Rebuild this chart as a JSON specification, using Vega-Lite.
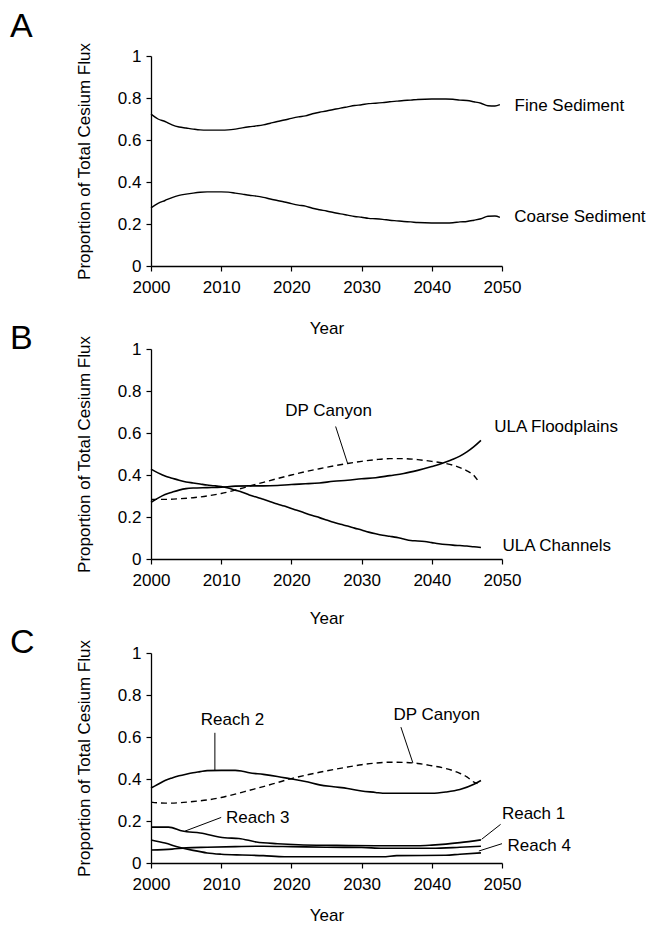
{
  "$schema": "https://vega.github.io/schema/vega-lite/v6.json",
  "padding": {"left": 10, "top": 9, "right": 0, "bottom": 0},
  "background": "white",
  "datasets": {
    "a": [
      {"series":"Fine Sediment","year":2000,"value":0.723},{"series":"Fine Sediment","year":2001,"value":0.700},{"series":"Fine Sediment","year":2002,"value":0.688},{"series":"Fine Sediment","year":2003,"value":0.672},{"series":"Fine Sediment","year":2004,"value":0.662},{"series":"Fine Sediment","year":2005,"value":0.657},{"series":"Fine Sediment","year":2006,"value":0.652},{"series":"Fine Sediment","year":2007,"value":0.648},{"series":"Fine Sediment","year":2008,"value":0.647},{"series":"Fine Sediment","year":2010,"value":0.647},{"series":"Fine Sediment","year":2011,"value":0.648},{"series":"Fine Sediment","year":2012,"value":0.652},{"series":"Fine Sediment","year":2013,"value":0.658},{"series":"Fine Sediment","year":2014,"value":0.663},{"series":"Fine Sediment","year":2015,"value":0.667},{"series":"Fine Sediment","year":2016,"value":0.672},{"series":"Fine Sediment","year":2017,"value":0.680},{"series":"Fine Sediment","year":2018,"value":0.688},{"series":"Fine Sediment","year":2019,"value":0.695},{"series":"Fine Sediment","year":2020,"value":0.703},{"series":"Fine Sediment","year":2021,"value":0.710},{"series":"Fine Sediment","year":2022,"value":0.715},{"series":"Fine Sediment","year":2023,"value":0.725},{"series":"Fine Sediment","year":2024,"value":0.732},{"series":"Fine Sediment","year":2025,"value":0.738},{"series":"Fine Sediment","year":2026,"value":0.745},{"series":"Fine Sediment","year":2027,"value":0.752},{"series":"Fine Sediment","year":2028,"value":0.758},{"series":"Fine Sediment","year":2029,"value":0.764},{"series":"Fine Sediment","year":2030,"value":0.768},{"series":"Fine Sediment","year":2031,"value":0.773},{"series":"Fine Sediment","year":2032,"value":0.775},{"series":"Fine Sediment","year":2033,"value":0.778},{"series":"Fine Sediment","year":2034,"value":0.782},{"series":"Fine Sediment","year":2035,"value":0.785},{"series":"Fine Sediment","year":2036,"value":0.788},{"series":"Fine Sediment","year":2037,"value":0.790},{"series":"Fine Sediment","year":2038,"value":0.793},{"series":"Fine Sediment","year":2040,"value":0.795},{"series":"Fine Sediment","year":2042,"value":0.795},{"series":"Fine Sediment","year":2043,"value":0.794},{"series":"Fine Sediment","year":2044,"value":0.790},{"series":"Fine Sediment","year":2045,"value":0.788},{"series":"Fine Sediment","year":2046,"value":0.782},{"series":"Fine Sediment","year":2047,"value":0.775},{"series":"Fine Sediment","year":2048,"value":0.763},{"series":"Fine Sediment","year":2049,"value":0.762},{"series":"Fine Sediment","year":2049.7,"value":0.768},
      {"series":"Coarse Sediment","year":2000,"value":0.277},{"series":"Coarse Sediment","year":2001,"value":0.298},{"series":"Coarse Sediment","year":2002,"value":0.312},{"series":"Coarse Sediment","year":2003,"value":0.326},{"series":"Coarse Sediment","year":2004,"value":0.336},{"series":"Coarse Sediment","year":2005,"value":0.342},{"series":"Coarse Sediment","year":2006,"value":0.347},{"series":"Coarse Sediment","year":2007,"value":0.351},{"series":"Coarse Sediment","year":2008,"value":0.353},{"series":"Coarse Sediment","year":2010,"value":0.353},{"series":"Coarse Sediment","year":2011,"value":0.352},{"series":"Coarse Sediment","year":2012,"value":0.347},{"series":"Coarse Sediment","year":2013,"value":0.342},{"series":"Coarse Sediment","year":2014,"value":0.337},{"series":"Coarse Sediment","year":2015,"value":0.333},{"series":"Coarse Sediment","year":2016,"value":0.327},{"series":"Coarse Sediment","year":2017,"value":0.319},{"series":"Coarse Sediment","year":2018,"value":0.312},{"series":"Coarse Sediment","year":2019,"value":0.305},{"series":"Coarse Sediment","year":2020,"value":0.297},{"series":"Coarse Sediment","year":2021,"value":0.290},{"series":"Coarse Sediment","year":2022,"value":0.285},{"series":"Coarse Sediment","year":2023,"value":0.275},{"series":"Coarse Sediment","year":2024,"value":0.268},{"series":"Coarse Sediment","year":2025,"value":0.262},{"series":"Coarse Sediment","year":2026,"value":0.255},{"series":"Coarse Sediment","year":2027,"value":0.248},{"series":"Coarse Sediment","year":2028,"value":0.242},{"series":"Coarse Sediment","year":2029,"value":0.236},{"series":"Coarse Sediment","year":2030,"value":0.232},{"series":"Coarse Sediment","year":2031,"value":0.227},{"series":"Coarse Sediment","year":2032,"value":0.225},{"series":"Coarse Sediment","year":2033,"value":0.222},{"series":"Coarse Sediment","year":2034,"value":0.218},{"series":"Coarse Sediment","year":2035,"value":0.215},{"series":"Coarse Sediment","year":2036,"value":0.212},{"series":"Coarse Sediment","year":2037,"value":0.210},{"series":"Coarse Sediment","year":2038,"value":0.207},{"series":"Coarse Sediment","year":2040,"value":0.205},{"series":"Coarse Sediment","year":2042,"value":0.205},{"series":"Coarse Sediment","year":2043,"value":0.206},{"series":"Coarse Sediment","year":2044,"value":0.210},{"series":"Coarse Sediment","year":2045,"value":0.212},{"series":"Coarse Sediment","year":2046,"value":0.218},{"series":"Coarse Sediment","year":2047,"value":0.225},{"series":"Coarse Sediment","year":2048,"value":0.237},{"series":"Coarse Sediment","year":2049,"value":0.238},{"series":"Coarse Sediment","year":2049.7,"value":0.232}
    ],
    "b": [
      {"series":"ULA Channels","year":2000,"value":0.428},{"series":"ULA Channels","year":2001,"value":0.410},{"series":"ULA Channels","year":2002,"value":0.395},{"series":"ULA Channels","year":2003,"value":0.385},{"series":"ULA Channels","year":2004,"value":0.375},{"series":"ULA Channels","year":2005,"value":0.367},{"series":"ULA Channels","year":2006,"value":0.362},{"series":"ULA Channels","year":2007,"value":0.357},{"series":"ULA Channels","year":2008,"value":0.352},{"series":"ULA Channels","year":2009,"value":0.349},{"series":"ULA Channels","year":2010,"value":0.345},{"series":"ULA Channels","year":2011,"value":0.338},{"series":"ULA Channels","year":2012,"value":0.328},{"series":"ULA Channels","year":2013,"value":0.318},{"series":"ULA Channels","year":2014,"value":0.305},{"series":"ULA Channels","year":2015,"value":0.295},{"series":"ULA Channels","year":2016,"value":0.284},{"series":"ULA Channels","year":2017,"value":0.273},{"series":"ULA Channels","year":2018,"value":0.262},{"series":"ULA Channels","year":2019,"value":0.252},{"series":"ULA Channels","year":2020,"value":0.240},{"series":"ULA Channels","year":2021,"value":0.230},{"series":"ULA Channels","year":2022,"value":0.218},{"series":"ULA Channels","year":2023,"value":0.207},{"series":"ULA Channels","year":2024,"value":0.197},{"series":"ULA Channels","year":2025,"value":0.186},{"series":"ULA Channels","year":2026,"value":0.175},{"series":"ULA Channels","year":2027,"value":0.165},{"series":"ULA Channels","year":2028,"value":0.157},{"series":"ULA Channels","year":2029,"value":0.147},{"series":"ULA Channels","year":2030,"value":0.138},{"series":"ULA Channels","year":2031,"value":0.128},{"series":"ULA Channels","year":2032,"value":0.120},{"series":"ULA Channels","year":2033,"value":0.113},{"series":"ULA Channels","year":2034,"value":0.108},{"series":"ULA Channels","year":2035,"value":0.103},{"series":"ULA Channels","year":2036,"value":0.095},{"series":"ULA Channels","year":2037,"value":0.088},{"series":"ULA Channels","year":2038,"value":0.086},{"series":"ULA Channels","year":2039,"value":0.083},{"series":"ULA Channels","year":2040,"value":0.078},{"series":"ULA Channels","year":2041,"value":0.073},{"series":"ULA Channels","year":2042,"value":0.069},{"series":"ULA Channels","year":2043,"value":0.066},{"series":"ULA Channels","year":2044,"value":0.064},{"series":"ULA Channels","year":2045,"value":0.062},{"series":"ULA Channels","year":2046,"value":0.058},{"series":"ULA Channels","year":2047,"value":0.055},
      {"series":"ULA Floodplains","year":2000,"value":0.270},{"series":"ULA Floodplains","year":2001,"value":0.290},{"series":"ULA Floodplains","year":2002,"value":0.307},{"series":"ULA Floodplains","year":2003,"value":0.318},{"series":"ULA Floodplains","year":2004,"value":0.328},{"series":"ULA Floodplains","year":2005,"value":0.335},{"series":"ULA Floodplains","year":2006,"value":0.338},{"series":"ULA Floodplains","year":2008,"value":0.340},{"series":"ULA Floodplains","year":2010,"value":0.342},{"series":"ULA Floodplains","year":2012,"value":0.347},{"series":"ULA Floodplains","year":2014,"value":0.348},{"series":"ULA Floodplains","year":2016,"value":0.348},{"series":"ULA Floodplains","year":2018,"value":0.350},{"series":"ULA Floodplains","year":2020,"value":0.355},{"series":"ULA Floodplains","year":2022,"value":0.358},{"series":"ULA Floodplains","year":2024,"value":0.362},{"series":"ULA Floodplains","year":2026,"value":0.370},{"series":"ULA Floodplains","year":2028,"value":0.375},{"series":"ULA Floodplains","year":2030,"value":0.382},{"series":"ULA Floodplains","year":2032,"value":0.387},{"series":"ULA Floodplains","year":2034,"value":0.397},{"series":"ULA Floodplains","year":2036,"value":0.407},{"series":"ULA Floodplains","year":2038,"value":0.422},{"series":"ULA Floodplains","year":2040,"value":0.440},{"series":"ULA Floodplains","year":2041,"value":0.450},{"series":"ULA Floodplains","year":2042,"value":0.462},{"series":"ULA Floodplains","year":2043,"value":0.475},{"series":"ULA Floodplains","year":2044,"value":0.490},{"series":"ULA Floodplains","year":2045,"value":0.510},{"series":"ULA Floodplains","year":2046,"value":0.535},{"series":"ULA Floodplains","year":2047,"value":0.565},
      {"series":"DP Canyon","year":2000,"value":0.284},{"series":"DP Canyon","year":2002,"value":0.284},{"series":"DP Canyon","year":2004,"value":0.287},{"series":"DP Canyon","year":2006,"value":0.292},{"series":"DP Canyon","year":2008,"value":0.300},{"series":"DP Canyon","year":2010,"value":0.312},{"series":"DP Canyon","year":2012,"value":0.328},{"series":"DP Canyon","year":2014,"value":0.347},{"series":"DP Canyon","year":2016,"value":0.365},{"series":"DP Canyon","year":2018,"value":0.383},{"series":"DP Canyon","year":2020,"value":0.400},{"series":"DP Canyon","year":2022,"value":0.416},{"series":"DP Canyon","year":2024,"value":0.430},{"series":"DP Canyon","year":2026,"value":0.443},{"series":"DP Canyon","year":2028,"value":0.455},{"series":"DP Canyon","year":2030,"value":0.465},{"series":"DP Canyon","year":2032,"value":0.473},{"series":"DP Canyon","year":2034,"value":0.478},{"series":"DP Canyon","year":2036,"value":0.478},{"series":"DP Canyon","year":2038,"value":0.473},{"series":"DP Canyon","year":2040,"value":0.465},{"series":"DP Canyon","year":2042,"value":0.455},{"series":"DP Canyon","year":2043,"value":0.447},{"series":"DP Canyon","year":2044,"value":0.435},{"series":"DP Canyon","year":2045,"value":0.420},{"series":"DP Canyon","year":2046,"value":0.398},{"series":"DP Canyon","year":2046.5,"value":0.377}
    ],
    "c": [
      {"series":"Reach 2","year":2000,"value":0.357},{"series":"Reach 2","year":2001,"value":0.375},{"series":"Reach 2","year":2002,"value":0.393},{"series":"Reach 2","year":2003,"value":0.405},{"series":"Reach 2","year":2004,"value":0.415},{"series":"Reach 2","year":2005,"value":0.423},{"series":"Reach 2","year":2006,"value":0.430},{"series":"Reach 2","year":2007,"value":0.435},{"series":"Reach 2","year":2008,"value":0.440},{"series":"Reach 2","year":2010,"value":0.441},{"series":"Reach 2","year":2012,"value":0.441},{"series":"Reach 2","year":2013,"value":0.437},{"series":"Reach 2","year":2014,"value":0.430},{"series":"Reach 2","year":2016,"value":0.422},{"series":"Reach 2","year":2018,"value":0.412},{"series":"Reach 2","year":2020,"value":0.400},{"series":"Reach 2","year":2022,"value":0.388},{"series":"Reach 2","year":2024,"value":0.372},{"series":"Reach 2","year":2026,"value":0.363},{"series":"Reach 2","year":2028,"value":0.355},{"series":"Reach 2","year":2030,"value":0.343},{"series":"Reach 2","year":2032,"value":0.336},{"series":"Reach 2","year":2033,"value":0.332},{"series":"Reach 2","year":2036,"value":0.332},{"series":"Reach 2","year":2040,"value":0.332},{"series":"Reach 2","year":2042,"value":0.338},{"series":"Reach 2","year":2044,"value":0.350},{"series":"Reach 2","year":2046,"value":0.375},{"series":"Reach 2","year":2047,"value":0.393},
      {"series":"DP Canyon","year":2000,"value":0.290},{"series":"DP Canyon","year":2002,"value":0.285},{"series":"DP Canyon","year":2004,"value":0.287},{"series":"DP Canyon","year":2006,"value":0.293},{"series":"DP Canyon","year":2008,"value":0.300},{"series":"DP Canyon","year":2010,"value":0.312},{"series":"DP Canyon","year":2012,"value":0.328},{"series":"DP Canyon","year":2014,"value":0.346},{"series":"DP Canyon","year":2016,"value":0.364},{"series":"DP Canyon","year":2018,"value":0.383},{"series":"DP Canyon","year":2020,"value":0.402},{"series":"DP Canyon","year":2022,"value":0.418},{"series":"DP Canyon","year":2024,"value":0.432},{"series":"DP Canyon","year":2026,"value":0.445},{"series":"DP Canyon","year":2028,"value":0.457},{"series":"DP Canyon","year":2030,"value":0.468},{"series":"DP Canyon","year":2032,"value":0.476},{"series":"DP Canyon","year":2034,"value":0.480},{"series":"DP Canyon","year":2036,"value":0.479},{"series":"DP Canyon","year":2038,"value":0.474},{"series":"DP Canyon","year":2040,"value":0.463},{"series":"DP Canyon","year":2042,"value":0.450},{"series":"DP Canyon","year":2044,"value":0.427},{"series":"DP Canyon","year":2045,"value":0.410},{"series":"DP Canyon","year":2046,"value":0.385},{"series":"DP Canyon","year":2046.5,"value":0.378},
      {"series":"Reach 3","year":2000,"value":0.171},{"series":"Reach 3","year":2002.5,"value":0.171},{"series":"Reach 3","year":2004.5,"value":0.152},{"series":"Reach 3","year":2007,"value":0.143},{"series":"Reach 3","year":2010.5,"value":0.120},{"series":"Reach 3","year":2012.5,"value":0.117},{"series":"Reach 3","year":2015,"value":0.100},{"series":"Reach 3","year":2018,"value":0.092},{"series":"Reach 3","year":2021,"value":0.087},{"series":"Reach 3","year":2026,"value":0.084},{"series":"Reach 3","year":2032,"value":0.082},{"series":"Reach 3","year":2038,"value":0.082},{"series":"Reach 3","year":2040,"value":0.085},{"series":"Reach 3","year":2042,"value":0.090},{"series":"Reach 3","year":2044,"value":0.097},{"series":"Reach 3","year":2047,"value":0.110},
      {"series":"Reach 1","year":2000,"value":0.062},{"series":"Reach 1","year":2003,"value":0.066},{"series":"Reach 1","year":2005,"value":0.072},{"series":"Reach 1","year":2008,"value":0.075},{"series":"Reach 1","year":2012,"value":0.078},{"series":"Reach 1","year":2016,"value":0.080},{"series":"Reach 1","year":2020,"value":0.078},{"series":"Reach 1","year":2025,"value":0.075},{"series":"Reach 1","year":2030,"value":0.074},{"series":"Reach 1","year":2033,"value":0.070},{"series":"Reach 1","year":2040,"value":0.070},{"series":"Reach 1","year":2044,"value":0.075},{"series":"Reach 1","year":2047,"value":0.080},
      {"series":"Reach 4","year":2000,"value":0.110},{"series":"Reach 4","year":2002,"value":0.095},{"series":"Reach 4","year":2004,"value":0.075},{"series":"Reach 4","year":2006,"value":0.060},{"series":"Reach 4","year":2008,"value":0.048},{"series":"Reach 4","year":2010,"value":0.042},{"series":"Reach 4","year":2013,"value":0.038},{"series":"Reach 4","year":2016,"value":0.035},{"series":"Reach 4","year":2019,"value":0.030},{"series":"Reach 4","year":2033,"value":0.030},{"series":"Reach 4","year":2035,"value":0.035},{"series":"Reach 4","year":2042,"value":0.037},{"series":"Reach 4","year":2044,"value":0.042},{"series":"Reach 4","year":2047,"value":0.048}
    ],
    "labels": [
      {"panel":"A","text":"Fine Sediment","x":2059.6,"y":0.76},
      {"panel":"A","text":"Coarse Sediment","x":2061.1,"y":0.232},
      {"panel":"B","text":"DP Canyon","x":2025.3,"y":0.706},
      {"panel":"B","text":"ULA Floodplains","x":2057.7,"y":0.63},
      {"panel":"B","text":"ULA Channels","x":2057.8,"y":0.063},
      {"panel":"C","text":"Reach 2","x":2011.6,"y":0.682},
      {"panel":"C","text":"DP Canyon","x":2040.7,"y":0.706},
      {"panel":"C","text":"Reach 3","x":2015.2,"y":0.216},
      {"panel":"C","text":"Reach 1","x":2054.5,"y":0.235},
      {"panel":"C","text":"Reach 4","x":2055.3,"y":0.082}
    ],
    "leaders": [
      {"panel":"B","x":2026.3,"y":0.631,"x2":2028.0,"y2":0.456},
      {"panel":"C","x":2009.1,"y":0.62,"x2":2009.1,"y2":0.44},
      {"panel":"C","x":2035.6,"y":0.647,"x2":2037.3,"y2":0.477},
      {"panel":"C","x":2010.0,"y":0.217,"x2":2004.85,"y2":0.152},
      {"panel":"C","x":2049.8,"y":0.184,"x2":2047.1,"y2":0.113},
      {"panel":"C","x":2050.0,"y":0.092,"x2":2046.7,"y2":0.057}
    ]
  },
  "vconcat": [
    {
      "vconcat": [
        {
          "width": 351, "height": 210,
          "title": {"text": "A", "anchor": "start", "frame": "group", "dx": -141, "offset": -1.5},
          "layer": [
            {"data": {"name": "a"}, "mark": {"type": "line", "color": "black", "strokeWidth": 1.4, "interpolate": "monotone"},
             "encoding": {
               "x": {"field": "year", "type": "quantitative", "scale": {"domain": [2000, 2050], "nice": false}, "axis": {"values": [2000, 2010, 2020, 2030, 2040, 2050], "format": "d", "title": "Year", "titlePadding": 25}},
               "y": {"field": "value", "type": "quantitative", "scale": {"domain": [0, 1], "nice": false}, "axis": {"values": [0, 0.2, 0.4, 0.6, 0.8, 1], "format": "~g", "title": "Proportion of Total Cesium Flux"}},
               "detail": {"field": "series"}}},
            {"data": {"name": "labels"}, "transform": [{"filter": "datum.panel == 'A'"}],
             "mark": {"type": "text", "fontSize": 17, "align": "center", "baseline": "middle", "color": "black"},
             "encoding": {"x": {"field": "x", "type": "quantitative"}, "y": {"field": "y", "type": "quantitative"}, "text": {"field": "text"}}}
          ]
        },
        {
          "width": 351, "height": 210,
          "title": {"text": "B", "anchor": "start", "frame": "group", "dx": -141, "offset": -20.5},
          "layer": [
            {"data": {"name": "b"}, "transform": [{"filter": "datum.series != 'DP Canyon'"}],
             "mark": {"type": "line", "color": "black", "strokeWidth": 1.6, "interpolate": "monotone"},
             "encoding": {
               "x": {"field": "year", "type": "quantitative", "scale": {"domain": [2000, 2050], "nice": false}, "axis": {"values": [2000, 2010, 2020, 2030, 2040, 2050], "format": "d", "title": "Year", "titlePadding": 22}},
               "y": {"field": "value", "type": "quantitative", "scale": {"domain": [0, 1], "nice": false}, "axis": {"values": [0, 0.2, 0.4, 0.6, 0.8, 1], "format": "~g", "title": "Proportion of Total Cesium Flux"}},
               "detail": {"field": "series"}}},
            {"data": {"name": "b"}, "transform": [{"filter": "datum.series == 'DP Canyon'"}],
             "mark": {"type": "line", "color": "black", "strokeWidth": 1.4, "strokeDash": [6, 4], "interpolate": "monotone"},
             "encoding": {"x": {"field": "year", "type": "quantitative"}, "y": {"field": "value", "type": "quantitative"}}},
            {"data": {"name": "leaders"}, "transform": [{"filter": "datum.panel == 'B'"}],
             "mark": {"type": "rule", "color": "black", "strokeWidth": 1},
             "encoding": {"x": {"field": "x", "type": "quantitative"}, "y": {"field": "y", "type": "quantitative"}, "x2": {"field": "x2"}, "y2": {"field": "y2"}}},
            {"data": {"name": "labels"}, "transform": [{"filter": "datum.panel == 'B'"}],
             "mark": {"type": "text", "fontSize": 17, "align": "center", "baseline": "middle", "color": "black"},
             "encoding": {"x": {"field": "x", "type": "quantitative"}, "y": {"field": "y", "type": "quantitative"}, "text": {"field": "text"}}}
          ]
        }
      ],
      "spacing": 83,
      "bounds": "flush"
    },
    {
      "width": 351, "height": 210,
      "title": {"text": "C", "anchor": "start", "frame": "group", "dx": -141, "offset": -20.5},
      "layer": [
        {"data": {"name": "c"}, "transform": [{"filter": "datum.series != 'DP Canyon'"}],
         "mark": {"type": "line", "color": "black", "strokeWidth": 1.6, "interpolate": "monotone"},
         "encoding": {
           "x": {"field": "year", "type": "quantitative", "scale": {"domain": [2000, 2050], "nice": false}, "axis": {"values": [2000, 2010, 2020, 2030, 2040, 2050], "format": "d", "title": "Year", "titlePadding": 15}},
           "y": {"field": "value", "type": "quantitative", "scale": {"domain": [0, 1], "nice": false}, "axis": {"values": [0, 0.2, 0.4, 0.6, 0.8, 1], "format": "~g", "title": "Proportion of Total Cesium Flux"}},
           "detail": {"field": "series"}}},
        {"data": {"name": "c"}, "transform": [{"filter": "datum.series == 'DP Canyon'"}],
         "mark": {"type": "line", "color": "black", "strokeWidth": 1.4, "strokeDash": [6, 4], "interpolate": "monotone"},
         "encoding": {"x": {"field": "year", "type": "quantitative"}, "y": {"field": "value", "type": "quantitative"}}},
        {"data": {"name": "leaders"}, "transform": [{"filter": "datum.panel == 'C'"}],
         "mark": {"type": "rule", "color": "black", "strokeWidth": 1},
         "encoding": {"x": {"field": "x", "type": "quantitative"}, "y": {"field": "y", "type": "quantitative"}, "x2": {"field": "x2"}, "y2": {"field": "y2"}}},
        {"data": {"name": "labels"}, "transform": [{"filter": "datum.panel == 'C'"}],
         "mark": {"type": "text", "fontSize": 17, "align": "center", "baseline": "middle", "color": "black"},
         "encoding": {"x": {"field": "x", "type": "quantitative"}, "y": {"field": "y", "type": "quantitative"}, "text": {"field": "text"}}}
      ]
    }
  ],
  "spacing": -1,
  "config": {
    "font": "Liberation Sans",
    "view": {"stroke": null},
    "title": {"fontSize": 34, "fontWeight": "normal", "font": "Liberation Sans", "color": "black"},
    "text": {"font": "Liberation Sans"},
    "axis": {
      "grid": false,
      "domainColor": "black", "domainWidth": 1.3,
      "tickColor": "black", "tickWidth": 1.2, "tickSize": 5,
      "labelColor": "black", "labelFont": "Liberation Sans", "labelFontSize": 17, "labelPadding": 8,
      "titleColor": "black", "titleFont": "Liberation Sans", "titleFontSize": 17, "titleFontWeight": "normal"
    },
    "axisY": {"titleFontSize": 17, "titlePadding": 24, "labelPadding": 5},
    "axisX": {"labelPadding": 8, "labelFlush": false, "labelOverlap": false}
  }
}
